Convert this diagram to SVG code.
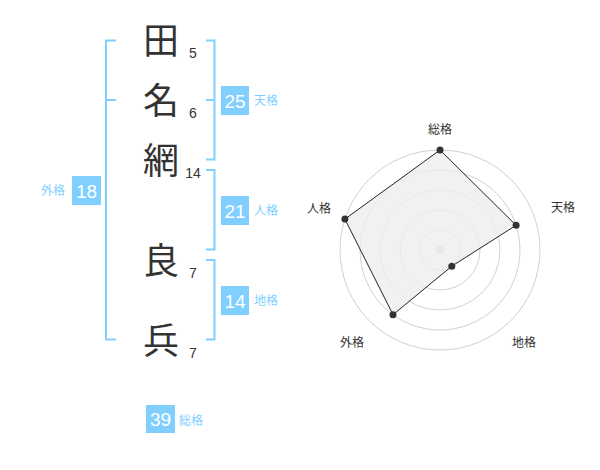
<svg xmlns="http://www.w3.org/2000/svg" width="600" height="470" viewBox="0 0 600 470">
<style>
.kanji{font-family:"Noto Sans CJK JP","Noto Sans CJK SC",sans-serif;font-size:36px;fill:#333;text-anchor:middle}
.num{font-family:"Liberation Sans",Arial,sans-serif;font-size:14px;fill:#333;text-anchor:middle}
.br{fill:none;stroke:#80cfff;stroke-width:2}
.box{fill:#80cfff}
.bt{font-family:"Liberation Sans",Arial,sans-serif;font-size:19px;fill:#fff;text-anchor:middle}
.lb{font-family:"Noto Sans CJK JP",sans-serif;font-size:12px;fill:#80cfff}
.ring{fill:none;stroke:#d0d0d0;stroke-width:1}
.ax{font-family:"Noto Sans CJK JP",sans-serif;font-size:12px;fill:#333;text-anchor:middle}
.pt{fill:#333}
</style>
<rect width="600" height="470" fill="#fff"/>
<g id="chars">
<text class="kanji" x="161" y="54">田</text>
<text class="kanji" x="161" y="114">名</text>
<text class="kanji" x="161" y="174">網</text>
<text class="kanji" x="161" y="274">良</text>
<text class="kanji" x="161" y="354">兵</text>
<text class="num" x="193" y="58">5</text>
<text class="num" x="193" y="118">6</text>
<text class="num" x="193" y="178">14</text>
<text class="num" x="193" y="278">7</text>
<text class="num" x="193" y="358">7</text>
</g>
<g id="connectors">
<path class="br" d="M116,40.5H106V339.5H116M106,100H116"/>
<path class="br" d="M206,40.5H214.5V159.5H206M206,100H214.5"/>
<path class="br" d="M206,170H214.5V249.5H206"/>
<path class="br" d="M206,260H214.5V339.5H206"/>
</g>
<g id="tenkaku">
<rect class="box" x="221" y="86" width="28" height="29"/>
<text class="bt" x="235" y="107.5">25</text>
<text class="lb" x="254" y="104.5">天格</text>
</g>
<g id="jinkaku">
<rect class="box" x="221" y="196" width="28" height="29"/>
<text class="bt" x="235" y="217.5">21</text>
<text class="lb" x="254" y="214.5">人格</text>
</g>
<g id="chikaku">
<rect class="box" x="221" y="286" width="28" height="29"/>
<text class="bt" x="235" y="307.5">14</text>
<text class="lb" x="254" y="304.5">地格</text>
</g>
<g id="gaikaku">
<rect class="box" x="72" y="176" width="29" height="29"/>
<text class="bt" x="86.5" y="197.5">18</text>
<text class="lb" x="41" y="194.5">外格</text>
</g>
<g id="soukaku">
<rect class="box" x="146" y="405" width="29" height="28"/>
<text class="bt" x="160.5" y="426">39</text>
<text class="lb" x="179" y="424.5">総格</text>
</g>
<g id="radar">
<circle class="ring" cx="440" cy="250" r="20"/>
<circle class="ring" cx="440" cy="250" r="40"/>
<circle class="ring" cx="440" cy="250" r="60"/>
<circle class="ring" cx="440" cy="250" r="80"/>
<circle class="ring" cx="440" cy="250" r="100"/>
<circle cx="440" cy="250" r="4" fill="#ccc"/>
<polygon points="440,150 516.1,225.3 451.8,266.2 393,314.7 344.9,219.1" fill="#eee" fill-opacity="0.8" stroke="#222" stroke-width="1"/>
<circle class="pt" cx="440" cy="150" r="3.5"/>
<circle class="pt" cx="516.1" cy="225.3" r="3.5"/>
<circle class="pt" cx="451.8" cy="266.2" r="3.5"/>
<circle class="pt" cx="393" cy="314.7" r="3.5"/>
<circle class="pt" cx="344.9" cy="219.1" r="3.5"/>
<text class="ax" x="440" y="134">総格</text>
<text class="ax" x="563" y="212">天格</text>
<text class="ax" x="524" y="347">地格</text>
<text class="ax" x="352" y="347">外格</text>
<text class="ax" x="319" y="213">人格</text>
</g>
</svg>
